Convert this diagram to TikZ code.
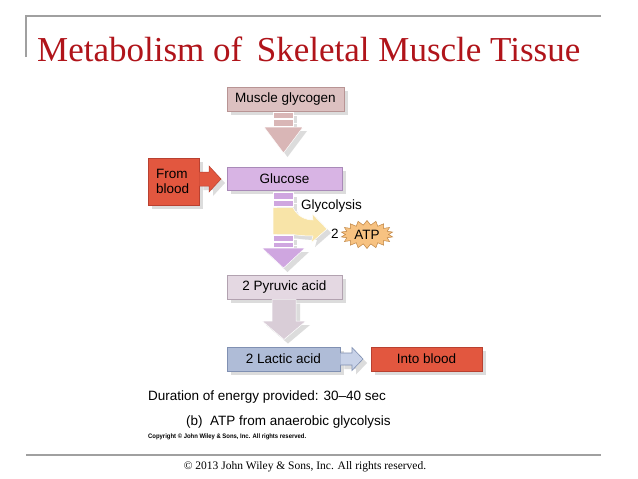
\documentclass[tikz,border=0pt]{standalone}
\usepackage{fontspec}
\setmainfont{Liberation Serif}
\setsansfont{Liberation Sans}
\usetikzlibrary{shapes.symbols,shadows,calc}
\definecolor{titlered}{HTML}{B0141A}
\definecolor{rulegray}{HTML}{A0A0A0}
\definecolor{shadowc}{HTML}{DCDCDC}
\definecolor{glycf}{HTML}{DCC0C0}
\definecolor{glycd}{HTML}{B89494}
\definecolor{glyca}{HTML}{D9B6B6}
\definecolor{redf}{HTML}{E2573F}
\definecolor{redd}{HTML}{B94030}
\definecolor{glucf}{HTML}{D8B4E4}
\definecolor{glucd}{HTML}{A98AB8}
\definecolor{purpa}{HTML}{CFA6E0}
\definecolor{yellowa}{HTML}{F8E4A8}
\definecolor{atpf}{HTML}{F7C281}
\definecolor{atpd}{HTML}{BF8442}
\definecolor{pyrf}{HTML}{E4D8E2}
\definecolor{pyrd}{HTML}{B2A2B0}
\definecolor{graya}{HTML}{D9CDD7}
\definecolor{lacf}{HTML}{AFBCD7}
\definecolor{lacd}{HTML}{8090B2}
\definecolor{laca}{HTML}{C8D2E8}
\tikzset{
  box/.style={rectangle, inner sep=0pt, minimum height=24pt, line width=0.6pt,
    font=\sffamily\fontsize{13.5}{15}\selectfont,
    drop shadow={shadow xshift=4pt, shadow yshift=-4pt, fill=shadowc, opacity=1}},
  shad/.style={preaction={fill=shadowc, draw=none, transform canvas={shift={(4,4)}}}},
  stripe/.style={line width=0.5pt},
  lbl/.style={font=\sffamily\fontsize{13.5}{15}\selectfont, inner sep=0pt},
  rule/.style={draw=rulegray, line width=1.1pt}
}
\begin{document}
\begin{tikzpicture}[x=1pt,y=-1pt]
\useasboundingbox (0,0) rectangle (638,479);
\fill[white] (0,0) rectangle (638,479);
% frame lines
\draw[rule] (26,57) -- (26,16) -- (601,16);
\draw[rule] (26,455) -- (601,455);
\node[anchor=base west, inner sep=0pt, text=titlered,
  font=\fontsize{35}{40}\selectfont] (title) at (37,61)
  {Metabolism of\, Skeletal Muscle Tissue};
% boxes
\node[box, fill=glycf, draw=glycd, minimum width=117pt] (glycogen) at (285.5,99) {Muscle glycogen};
\node[box, fill=glucf, draw=glucd, minimum width=115pt, minimum height=23pt] (glucose) at (284.5,178.5) {Glucose};
\node[box, fill=redf, draw=redd, minimum width=51pt, minimum height=47pt] (blood) at (173.5,181.5) {};
\node[lbl, align=left, anchor=west] (bloodtxt) at (156,181.5) {From\\blood};
\node[box, fill=pyrf, draw=pyrd, minimum width=115pt] (pyruvic) at (284.5,287) {2 Pyruvic acid};
\node[box, fill=lacf, draw=lacd, minimum width=113pt] (lactic) at (283.5,359) {2 Lactic acid};
\node[box, fill=redf, draw=redd, minimum width=111pt] (into) at (426.5,359) {Into blood};
% glycogen -> glucose
\begin{scope}[fill=glyca, draw=white]
\filldraw[stripe, shad] (273,112) rectangle (293,118.5);
\filldraw[stripe, shad] (273,119.5) rectangle (293,126);
\filldraw[stripe, shad] (264,127) -- (303,127) -- (283.5,153) -- cycle;
\end{scope}
% blood -> glucose
\filldraw[fill=redf, draw=redd, line width=0.5pt, shad]
  (blood.east |- 0,172) -- (209,172) -- (209,166) -- (221,179) -- (209,192)
  -- (209,186) -- (blood.east |- 0,186);
% glucose -> pyruvic
\begin{scope}[fill=purpa, draw=white]
\filldraw[stripe, shad] (273,192.5) rectangle (293,199);
\filldraw[stripe, shad] (273,200) rectangle (293,206.5);
\end{scope}
\filldraw[fill=yellowa, draw=white, line width=0.5pt, shad]
  (273,207.5) -- (293,207.5) .. controls (297,216) and (305,220) .. (313,220)
  -- (312,213.5) -- (327,229) -- (311,243) -- (313,236)
  .. controls (303,236) and (296,235) .. (293,234.5) -- (273,234.5) -- cycle;
\begin{scope}[fill=purpa, draw=white]
\filldraw[stripe, shad] (273,235.5) rectangle (293,241);
\filldraw[stripe, shad] (273,242) rectangle (293,247.5);
\filldraw[stripe, shad] (262,248) -- (305,248) -- (283.5,268) -- cycle;
\end{scope}
\node[lbl, anchor=west] (glycolysis) at (301,206) {Glycolysis};
\node[lbl] (two) at (335,233.5) {2};
\node[starburst, starburst points=18, starburst point height=4.5pt, random starburst=0,
  fill=atpf, draw=atpd, line width=0.5pt, minimum width=52pt, minimum height=28pt, inner sep=1pt,
  font=\sffamily\fontsize{13.5}{15}\selectfont] (atp) at (367,234.5) {ATP};
% pyruvic -> lactic
\filldraw[fill=graya, draw=white, line width=0.5pt, shad]
  (272,299.5) -- (296,299.5) -- (296,321) -- (306,321) -- (284,339.5) -- (262,321)
  -- (272,321) -- cycle;
% lactic -> into blood
\filldraw[fill=laca, draw=lacd, line width=0.6pt, shad]
  (lactic.east |- 0,353) -- (352,353) -- (352,347.5) -- (363,359) -- (352,370.5)
  -- (352,365) -- (lactic.east |- 0,365);
% texts
\node[lbl, anchor=west] (duration) at (148,397) {Duration of energy provided: 30--40 sec};
\node[lbl, anchor=west] (caption) at (186,422) {(b)\ \ ATP from anaerobic glycolysis};
\node[anchor=west, inner sep=0pt, font=\sffamily\bfseries\fontsize{6.5}{8}\selectfont,
  xscale=0.91] (copy1) at (148,437) {Copyright © John Wiley \& Sons, Inc. All rights reserved.};
\node[inner sep=0pt, font=\fontsize{11.5}{13}\selectfont] (copy2) at (305,467)
  {© 2013 John Wiley \& Sons, Inc. All rights reserved.};
\end{tikzpicture}
\end{document}
